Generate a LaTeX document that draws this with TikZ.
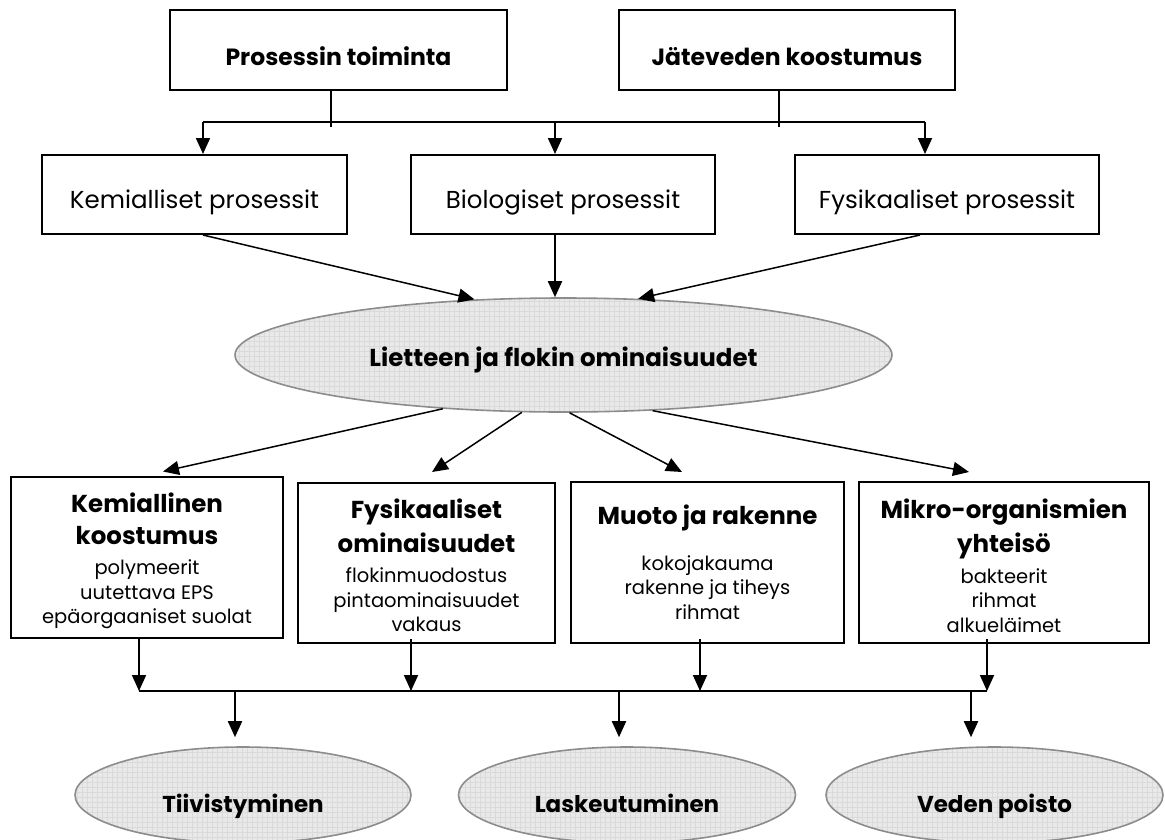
\documentclass[tikz,border=0pt]{standalone}
\usepackage{fontspec}
\setmainfont{Poppins}
\usetikzlibrary{arrows.meta,calc,shapes.geometric}
\definecolor{ellfill}{HTML}{E9E9E9}
\definecolor{elldraw}{HTML}{8C8C8C}
\definecolor{gridc}{HTML}{DADADA}
\newcommand{\hdr}{\bfseries\fontsize{24.5}{25}\selectfont}
\begin{document}
\begin{tikzpicture}[x=1pt,y=-1pt,
 box/.style={draw=black,line width=2pt,rectangle,inner sep=0pt,align=center},
 topbox/.style={box,minimum width=337pt,minimum height=80pt,text height=30pt,text depth=0pt,font=\bfseries\fontsize{23.5}{26}\selectfont},
 midbox/.style={box,minimum width=304pt,minimum height=79pt,text height=27pt,text depth=0pt,font=\fontsize{24.5}{27}\selectfont},
 propbox/.style={box,minimum height=161pt,font=\fontsize{19.5}{24.5}\selectfont},
 ell/.style={ellipse,draw=elldraw,line width=1.6pt,fill=ellfill,inner sep=0pt,
   font=\bfseries\fontsize{23}{26}\selectfont,
   path picture={\draw[gridc,line width=0.3pt,step=5pt] (path picture bounding box.south west) grid (path picture bounding box.north east);}},
 conn/.style={line width=1.8pt},
 arr/.style={conn,-{Triangle[length=16pt,width=14pt]}},
 darr/.style={line width=1.5pt,-{Triangle[length=16pt,width=14pt]}},
]
\useasboundingbox (0,0) rectangle (1165,839);

% top row
\node[topbox] (pt) at (338.5,50) {Prosessin toiminta};
\node[topbox,minimum width=336pt] (jk) at (787,50) {Jäteveden koostumus};

% middle row
\node[midbox,minimum width=305pt] (kp) at (194.5,194.5) {Kemialliset prosessit};
\node[midbox] (bp) at (563,194.5) {Biologiset prosessit};
\node[midbox] (fp) at (947,194.5) {Fysikaaliset prosessit};

% main ellipse
\node[ell,minimum width=657pt,minimum height=114pt,text height=22pt,text depth=0pt,font=\bfseries\fontsize{24.5}{26}\selectfont] (lf) at (563.5,355) {Lietteen ja flokin ominaisuudet};

% property boxes
\node[propbox,minimum width=272pt] (km) at (147,557) {{\hdr\rule{0pt}{28pt}Kemiallinen}\\[7pt]{\hdr koostumus}\\[6pt]polymeerit\\uutettava EPS\\epäorgaaniset suolat};
\node[propbox,minimum width=257pt,minimum height=160pt] (fo) at (426.5,563) {{\hdr\rule{0pt}{24pt}Fysikaaliset}\\[7pt]{\hdr ominaisuudet}\\[6pt]flokinmuodostus\\pintaominaisuudet\\vakaus};
\node[propbox,minimum width=273pt] (mr) at (707.5,562.5) {{\hdr Muoto ja rakenne}\\[21pt]kokojakauma\\rakenne ja tiheys\\rihmat};
\node[propbox,minimum width=290pt] (mo) at (1004,562.5) {{\hdr\rule{0pt}{26pt}Mikro-organismien}\\[7pt]{\hdr yhteisö}\\[6pt]bakteerit\\rihmat\\alkueläimet};

% bottom ellipses
\node[ell,minimum width=336pt,minimum height=96pt,text height=34pt,text depth=0pt] (ti) at (243,795) {Tiivistyminen};
\node[ell,minimum width=337pt,minimum height=96pt,text height=34pt,text depth=0pt] (la) at (627,795) {Laskeutuminen};
\node[ell,minimum width=337pt,minimum height=96pt,text height=34pt,text depth=0pt] (vp) at (994.5,795) {Veden poisto};

% top bus
\coordinate (ptj) at (331,127);
\coordinate (jkj) at (779,127);
\coordinate (b1a) at (203,122);
\coordinate (b1b) at (555,122);
\coordinate (b1c) at (925,122);
\draw[conn] (pt.south -| ptj) -- (ptj);
\draw[conn] (jk.south -| jkj) -- (jkj);
\draw[conn] (b1a) -- (b1c);
\draw[arr] (b1a) -- (b1a |- kp.north);
\draw[arr] (b1b) -- (b1b |- bp.north);
\draw[arr] (b1c) -- (b1c |- fp.north);

% middle row to ellipse
\draw[darr] ([xshift=8.5pt]kp.south) -- (lf.148.7);
\draw[arr] ([xshift=-8pt]bp.south) -- ([xshift=-8.5pt]lf.north);
\draw[darr] ([xshift=-27pt]fp.south) -- (lf.37);

% ellipse to property boxes
\draw[darr] (lf.204) -- ([xshift=16pt,yshift=4pt]km.north);
\draw[darr] (lf.234) -- ([xshift=5.5pt,yshift=10pt]fo.north);
\draw[darr] (lf.276) -- ([xshift=-25.5pt,yshift=9pt]mr.north);
\draw[darr] (lf.328) -- ([xshift=-35pt,yshift=9pt]mo.north);

% bottom bus
\coordinate (b2a) at (139,691);
\coordinate (b2b) at (411,691);
\coordinate (b2c) at (700,691);
\coordinate (b2d) at (987,691);
\coordinate (c1) at (235,691);
\coordinate (c2) at (619,691);
\coordinate (c3) at (971,691);
\draw[arr] (km.south -| b2a) -- (b2a);
\draw[arr] ([yshift=5pt]fo.south -| b2b) -- (b2b);
\draw[arr] ([yshift=5pt]mr.south -| b2c) -- (b2c);
\draw[arr] ([yshift=5pt]mo.south -| b2d) -- (b2d);
\draw[conn] (b2a) -- (b2d);
\draw[arr] (c1) -- ($(c1 |- ti.north)+(0,-9)$);
\draw[arr] (c2) -- ($(c2 |- la.north)+(0,-9)$);
\draw[arr] (c3) -- ($(c3 |- vp.north)+(0,-9)$);
\end{tikzpicture}
\end{document}
